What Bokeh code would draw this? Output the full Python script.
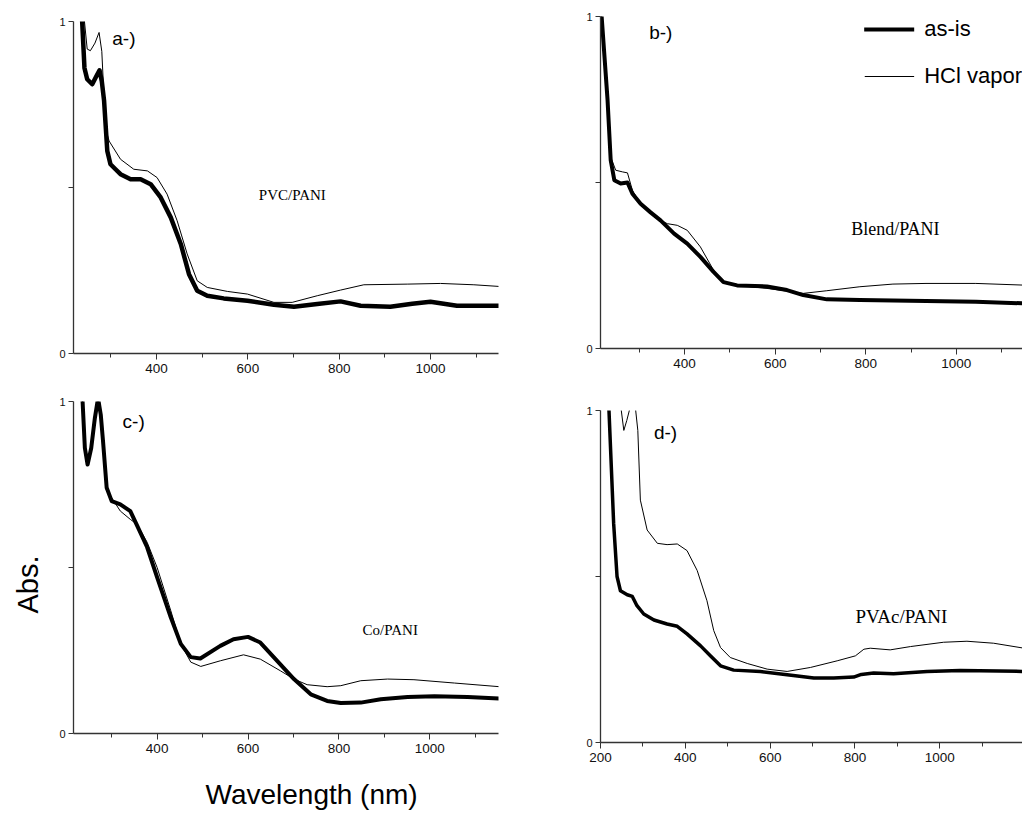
from bokeh.plotting import figure
from bokeh.layouts import column, row
from bokeh.models import FixedTicker, Label, Legend, LegendItem, Range1d, Title
from bokeh.embed import file_html
from bokeh.resources import INLINE

# ---------------- data (wavelength in nm, absorbance) ----------------
a_wl_asis = [225, 237, 242, 248, 259, 268, 275, 280, 285, 292, 299, 310, 321, 343, 365, 387, 409, 431, 453, 471, 489, 511, 547, 599, 657, 701, 752, 803, 847, 912, 960, 1000, 1058, 1150]
a_abs_asis = [1.25, 1.0, 0.86, 0.826, 0.811, 0.835, 0.853, 0.82, 0.761, 0.61, 0.57, 0.555, 0.54, 0.525, 0.525, 0.51, 0.47, 0.41, 0.33, 0.239, 0.189, 0.174, 0.166, 0.159, 0.147, 0.141, 0.149, 0.157, 0.144, 0.141, 0.150, 0.156, 0.144, 0.144]
a_wl_hcl = [230, 242, 248, 255, 265, 274, 280, 288, 296, 321, 350, 380, 401, 423, 445, 467, 489, 511, 555, 599, 657, 697, 752, 803, 854, 949, 1022, 1095, 1150]
a_abs_hcl = [1.2, 1.0, 0.917, 0.912, 0.935, 0.967, 0.91, 0.68, 0.64, 0.585, 0.555, 0.55, 0.53, 0.48, 0.40, 0.30, 0.219, 0.199, 0.187, 0.179, 0.154, 0.154, 0.174, 0.191, 0.207, 0.209, 0.211, 0.207, 0.202]

b_wl_asis = [212, 217, 230, 237, 245, 259, 274, 285, 303, 325, 347, 377, 406, 435, 464, 486, 516, 582, 626, 662, 714, 787, 933, 1043, 1147]
b_abs_asis = [1.1, 1.0, 0.75, 0.567, 0.507, 0.497, 0.50, 0.466, 0.436, 0.41, 0.386, 0.346, 0.316, 0.276, 0.231, 0.20, 0.19, 0.187, 0.176, 0.161, 0.148, 0.146, 0.143, 0.141, 0.136]
b_wl_hcl = [212, 217, 230, 237, 248, 263, 274, 285, 303, 347, 362, 384, 406, 435, 464, 486, 516, 582, 626, 662, 714, 787, 860, 933, 1043, 1147]
b_abs_hcl = [1.1, 1.0, 0.75, 0.577, 0.537, 0.532, 0.529, 0.476, 0.436, 0.386, 0.376, 0.371, 0.356, 0.306, 0.236, 0.20, 0.19, 0.181, 0.173, 0.166, 0.174, 0.186, 0.194, 0.196, 0.196, 0.191]

c_wl_asis = [228, 236, 241, 247, 255, 263, 270, 276, 281, 289, 300, 319, 341, 356, 378, 400, 430, 452, 474, 495, 539, 568, 600, 627, 664, 701, 738, 774, 804, 848, 892, 951, 1010, 1083, 1153]
c_abs_asis = [1.15, 1.0, 0.86, 0.81, 0.86, 0.95, 1.01, 0.96, 0.88, 0.74, 0.70, 0.69, 0.67, 0.626, 0.561, 0.47, 0.35, 0.27, 0.23, 0.226, 0.264, 0.284, 0.291, 0.274, 0.219, 0.164, 0.118, 0.098, 0.092, 0.093, 0.103, 0.110, 0.112, 0.110, 0.105]
c_wl_hcl = [228, 236, 241, 247, 255, 263, 270, 276, 281, 289, 300, 319, 341, 356, 378, 400, 430, 452, 474, 496, 539, 590, 627, 671, 701, 730, 774, 804, 848, 907, 965, 1054, 1153]
c_abs_hcl = [1.15, 1.0, 0.86, 0.82, 0.86, 0.95, 1.0, 0.95, 0.87, 0.74, 0.71, 0.67, 0.645, 0.63, 0.576, 0.50, 0.37, 0.27, 0.215, 0.202, 0.219, 0.237, 0.224, 0.189, 0.164, 0.147, 0.141, 0.144, 0.159, 0.164, 0.162, 0.152, 0.141]

d_wl_asis = [215, 220, 231, 239, 247, 263, 275, 286, 302, 326, 357, 381, 404, 436, 459, 483, 514, 577, 640, 703, 750, 797, 815, 844, 891, 970, 1048, 1199]
d_abs_asis = [1.15, 1.0, 0.66, 0.50, 0.457, 0.445, 0.44, 0.412, 0.387, 0.369, 0.357, 0.35, 0.327, 0.291, 0.261, 0.231, 0.218, 0.214, 0.204, 0.194, 0.194, 0.197, 0.205, 0.209, 0.207, 0.214, 0.217, 0.214]
d_wl_hcl = [240, 249, 255, 262, 268, 275, 283, 288, 294, 310, 334, 357, 381, 404, 428, 451, 467, 483, 506, 546, 593, 640, 695, 758, 801, 821, 836, 883, 931, 1009, 1064, 1127, 1199]
d_abs_hcl = [1.12, 1.0, 0.94, 0.97, 1.0, 1.06, 1.0, 0.94, 0.73, 0.64, 0.60, 0.596, 0.598, 0.578, 0.518, 0.427, 0.337, 0.286, 0.256, 0.238, 0.221, 0.214, 0.226, 0.246, 0.261, 0.281, 0.284, 0.279, 0.289, 0.302, 0.305, 0.299, 0.284]

x_major_ticks = [200, 400, 600, 800, 1000]
x_minor_ticks = [300, 500, 700, 900, 1100]
y_ticks = [0, 0.5, 1]

series_labels = ["as-is", "HCl vapor"]
panel_tags = ["a-)", "b-)", "c-)", "d-)"]
sample_names = ["PVC/PANI", "Blend/PANI", "Co/PANI", "PVAc/PANI"]
x_title = "Wavelength (nm)"
y_title = "Abs."

AX = "#333333"
SANS = "Liberation Sans"
SERIF = "Liberation Serif"


def make_panel(width, height, left, right, top, bottom, xr):
    p = figure(width=width, height=height, output_backend="svg", toolbar_location=None,
               x_range=Range1d(*xr), y_range=Range1d(0, 1),
               min_border_left=left, min_border_right=right,
               min_border_top=top, min_border_bottom=bottom)
    p.outline_line_color = None
    p.grid.visible = False
    p.background_fill_color = "white"
    p.border_fill_color = "white"
    p.xaxis.ticker = FixedTicker(ticks=x_major_ticks, minor_ticks=x_minor_ticks)
    p.yaxis.ticker = FixedTicker(ticks=y_ticks, minor_ticks=[])
    p.yaxis.major_label_overrides = {0.5: ""}
    for ax in (p.xaxis[0], p.yaxis[0]):
        ax.axis_line_color = AX
        ax.axis_line_width = 1.3
        ax.major_tick_line_color = AX
        ax.minor_tick_line_color = AX
        ax.major_tick_in = 0
        ax.minor_tick_in = 0
        ax.major_label_text_font = SANS
        ax.major_label_text_color = "#111111"
    p.xaxis.major_tick_out = 6
    p.xaxis.minor_tick_out = 4
    p.xaxis.major_label_text_font_size = "13.5px"
    p.xaxis.major_label_standoff = 4
    p.yaxis.major_tick_out = 5
    p.yaxis.major_label_text_font_size = "11px"
    p.yaxis.major_label_standoff = 3
    return p


def draw(p, wl1, ab1, wl2, ab2, thick_w, tag, tag_x, tag_y, name, name_x, name_y, name_size):
    r_thin = p.line(wl2, ab2, line_color="black", line_width=1.0, line_join="round")
    r_thick = p.line(wl1, ab1, line_color="black", line_width=thick_w, line_join="round", line_cap="round")
    p.add_layout(Label(x=tag_x, y=tag_y, text=tag, text_font=SANS, text_font_size="19px",
                       text_baseline="middle", text_color="black"))
    p.add_layout(Label(x=name_x, y=name_y, text=name, text_font=SERIF, text_font_size=name_size,
                       text_baseline="middle", text_color="black"))
    return r_thick, r_thin


pa = make_panel(520, 385, 73, 22, 21, 32, (218, 1149))
draw(pa, a_wl_asis, a_abs_asis, a_wl_hcl, a_abs_hcl, 4.5, panel_tags[0], 303, 0.95, sample_names[0], 624, 0.478, "15px")

pc = make_panel(520, 381, 73, 22, 16, 33, (216, 1151))
draw(pc, c_wl_asis, c_abs_asis, c_wl_hcl, c_abs_hcl, 4.0, panel_tags[2], 324, 0.94, sample_names[2], 852, 0.313, "15px")
pc.add_layout(Title(text=y_title, align="left", offset=120, standoff=22, vertical_align="top",
                    text_font=SANS, text_font_size="29px", text_font_style="normal",
                    text_color="black"), "left")

# strip under panel c that carries the x-axis title
pw = figure(width=520, height=48, output_backend="svg", toolbar_location=None,
            x_axis_location=None, y_axis_location=None,
            x_range=Range1d(0, 1), y_range=Range1d(0, 1),
            min_border_left=73, min_border_right=22, min_border_top=0, min_border_bottom=0)
pw.outline_line_color = None
pw.background_fill_color = "white"
pw.border_fill_color = "white"
pw.grid.visible = False
pw.add_layout(Label(x=132, y=20, x_units="screen", y_units="screen", text=x_title,
                    text_font=SANS, text_font_size="28px", text_baseline="middle",
                    text_align="left", text_color="black"))

pb = make_panel(502, 380, 80, 0, 16, 32, (214.5, 1146))
rb_thick, rb_thin = draw(pb, b_wl_asis, b_abs_asis, b_wl_hcl, b_abs_hcl, 4.0, panel_tags[1], 322, 0.953, sample_names[1], 768, 0.361, "18px")
legend = Legend(items=[LegendItem(label=series_labels[0], renderers=[rb_thick]),
                       LegendItem(label=series_labels[1], renderers=[rb_thin])],
                location="top_right", border_line_color=None, background_fill_alpha=0,
                label_text_font=SANS, label_text_font_size="22px", label_text_color="black",
                glyph_width=50, glyph_height=20, label_height=20, label_standoff=10,
                spacing=21, padding=0, margin=0)
pb.add_layout(legend)

pd = make_panel(502, 434, 80, 0, 30, 72, (200, 1195))
draw(pd, d_wl_asis, d_abs_asis, d_wl_hcl, d_abs_hcl, 3.5, panel_tags[3], 326, 0.935, sample_names[3], 801, 0.38, "19px")

layout = row(column(pa, pc, pw, spacing=0), column(pb, pd, spacing=0), spacing=0)

html = file_html(layout, INLINE, title="UV-Vis spectra")
with open("out.html", "w") as f:
    f.write(html)
